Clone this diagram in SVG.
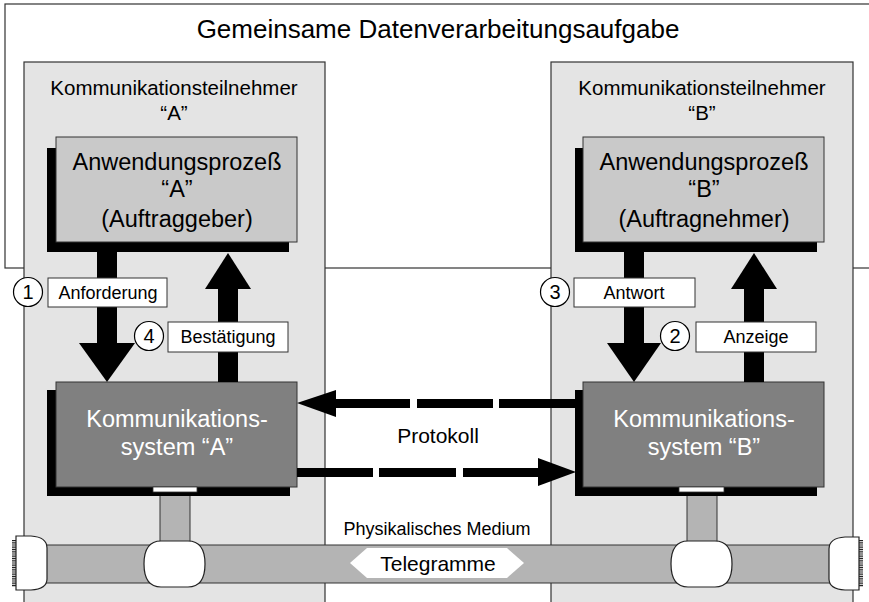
<svg xmlns="http://www.w3.org/2000/svg" width="869" height="602" viewBox="0 0 869 602">
  <defs>
    <style>
      text { font-family: "Liberation Sans", Arial, sans-serif; fill: #000; text-anchor: middle; }
      .frame { fill: #fff; stroke: #333; stroke-width: 1.2; }
      .column { fill: #e4e4e4; stroke: #333; stroke-width: 1.2; }
      .shadow { fill: #000; }
      .app { fill: #c9c9c9; stroke: #333; stroke-width: 1; }
      .sys { fill: #808080; stroke: #333; stroke-width: 1; }
      .label { fill: #fff; stroke: #333; stroke-width: 1; }
      .num { fill: #fff; stroke: #000; stroke-width: 1.2; }
      .cable { fill: #b4b4b4; stroke: #333; stroke-width: 1; }
      .tap { fill: #fff; stroke: #222; stroke-width: 1.2; }
      .arrow { fill: #000; }
      .t-title { font-size: 26px; }
      .t-col { font-size: 20.5px; }
      .t-box { font-size: 23.5px; }
      .t-sys { font-size: 23.5px; fill: #fff; }
      .t-lbl { font-size: 18px; }
      .t-num { font-size: 20px; }
    </style>
  </defs>

  <!-- shared task frame -->
  <g id="task">
    <rect class="frame" x="5" y="4" width="880" height="264"/>
    <text class="t-title" x="438" y="38">Gemeinsame Datenverarbeitungsaufgabe</text>
  </g>

  <!-- participant columns -->
  <g id="participant-a">
    <rect class="column" x="24" y="62" width="301" height="560"/>
    <text class="t-col" x="174" y="95">Kommunikationsteilnehmer</text>
    <text class="t-col" x="174" y="120">“A”</text>
  </g>
  <g id="participant-b">
    <rect class="column" x="551" y="62" width="302" height="560"/>
    <text class="t-col" x="702" y="95">Kommunikationsteilnehmer</text>
    <text class="t-col" x="702" y="120">“B”</text>
  </g>

  <!-- physical medium: bus with end caps -->
  <g id="medium">
    <rect class="cable" x="40" y="545" width="795" height="38"/>
    <text class="t-lbl" x="437" y="535">Physikalisches Medium</text>
    <polygon fill="#fff" points="350,563 367,548 507,548 524,563 507,578 367,578"/>
    <text x="438" y="570.5" style="font-size:21px">Telegramme</text>
    <!-- left terminator -->
    <line x1="14" y1="540" x2="14" y2="587" stroke="#222" stroke-width="4" stroke-dasharray="1 0.8"/>
    <path class="tap" d="M16,536 H31 Q47,537 47,548 V579 Q47,589 31,590 H16 Z"/>
    <!-- right terminator -->
    <line x1="861" y1="540" x2="861" y2="587" stroke="#222" stroke-width="4" stroke-dasharray="1 0.8"/>
    <path class="tap" d="M859,537 H845 Q829,538 829,549 V579 Q829,589 845,590 H859 Z"/>
  </g>

  <!-- application processes -->
  <g id="app-a">
    <rect class="shadow" x="47" y="148" width="242" height="104"/>
    <rect class="app" x="56" y="137" width="241" height="105"/>
    <text class="t-box" x="177" y="170">Anwendungsprozeß</text>
    <text class="t-box" x="177" y="197">“A”</text>
    <text class="t-box" x="177" y="227">(Auftraggeber)</text>
  </g>
  <g id="app-b">
    <rect class="shadow" x="575" y="148" width="242" height="104"/>
    <rect class="app" x="583" y="137" width="241" height="105"/>
    <text class="t-box" x="704" y="170">Anwendungsprozeß</text>
    <text class="t-box" x="704" y="197">“B”</text>
    <text class="t-box" x="704" y="227">(Auftragnehmer)</text>
  </g>

  <!-- communication systems with bus taps -->
  <g id="sys-a">
    <rect class="cable" x="160" y="490" width="30" height="54"/>
    <path class="tap" d="M161,541 H188 Q205,541 205,564 Q205,587 188,587 H161 Q144,587 144,564 Q144,541 161,541 Z"/>
    <rect class="shadow" x="47" y="390" width="243" height="106"/>
    <rect class="sys" x="56" y="382" width="241" height="105"/>
    <rect fill="#fff" stroke="#333" stroke-width="0.8" x="153" y="487" width="44" height="5"/>
    <text class="t-sys" x="177" y="427">Kommunikations-</text>
    <text class="t-sys" x="177" y="455">system “A”</text>
  </g>
  <g id="sys-b">
    <rect class="cable" x="687" y="490" width="30" height="54"/>
    <path class="tap" d="M688,541 H715 Q732,541 732,564 Q732,587 715,587 H688 Q671,587 671,564 Q671,541 688,541 Z"/>
    <rect class="shadow" x="575" y="390" width="242" height="106"/>
    <rect class="sys" x="583" y="382" width="241" height="105"/>
    <rect fill="#fff" stroke="#333" stroke-width="0.8" x="679" y="487" width="45" height="5"/>
    <text class="t-sys" x="704" y="427">Kommunikations-</text>
    <text class="t-sys" x="704" y="455">system “B”</text>
  </g>

  <!-- connectors: service primitives and protocol -->
  <g id="connectors">
    <!-- A: request down -->
    <rect class="arrow" x="97" y="252" width="20" height="92"/>
    <polygon class="arrow" points="79,343 135,343 107,382"/>
    <!-- A: confirmation up -->
    <rect class="arrow" x="218" y="286" width="20" height="96"/>
    <polygon class="arrow" points="205,289 251,289 228,253"/>
    <!-- B: response down -->
    <rect class="arrow" x="624" y="252" width="20" height="92"/>
    <polygon class="arrow" points="607,343 661,343 634,382"/>
    <!-- B: indication up -->
    <rect class="arrow" x="744" y="286" width="20" height="96"/>
    <polygon class="arrow" points="731,289 777,289 754,253"/>

    <!-- protocol B -> A (dashed) -->
    <polygon class="arrow" points="297,403 336,390 336,417"/>
    <rect class="arrow" x="335" y="399" width="75" height="9"/>
    <rect class="arrow" x="417" y="399" width="76" height="9"/>
    <rect class="arrow" x="499" y="399" width="77" height="9"/>
    <!-- protocol A -> B (dashed) -->
    <rect class="arrow" x="297" y="468" width="76" height="9"/>
    <rect class="arrow" x="379" y="468" width="77" height="9"/>
    <rect class="arrow" x="463" y="468" width="76" height="9"/>
    <polygon class="arrow" points="538,458 538,486 576,472"/>
    <text x="438" y="443" style="font-size:21px">Protokoll</text>
  </g>

  <!-- step labels -->
  <g id="step-1">
    <circle class="num" cx="28" cy="292" r="14.5"/>
    <text class="t-num" x="28" y="299">1</text>
    <rect class="label" x="48" y="278" width="119" height="29"/>
    <text class="t-lbl" x="108" y="299">Anforderung</text>
  </g>
  <g id="step-4">
    <circle class="num" cx="149" cy="336" r="14.5"/>
    <text class="t-num" x="149" y="343">4</text>
    <rect class="label" x="168" y="322" width="120" height="30"/>
    <text class="t-lbl" x="228" y="343">Bestätigung</text>
  </g>
  <g id="step-3">
    <circle class="num" cx="555" cy="292" r="14.5"/>
    <text class="t-num" x="555" y="299">3</text>
    <rect class="label" x="574" y="278" width="121" height="29"/>
    <text class="t-lbl" x="634" y="299">Antwort</text>
  </g>
  <g id="step-2">
    <circle class="num" cx="675" cy="336" r="14.5"/>
    <text class="t-num" x="675" y="343">2</text>
    <rect class="label" x="696" y="322" width="120" height="30"/>
    <text class="t-lbl" x="756" y="343">Anzeige</text>
  </g>
</svg>
